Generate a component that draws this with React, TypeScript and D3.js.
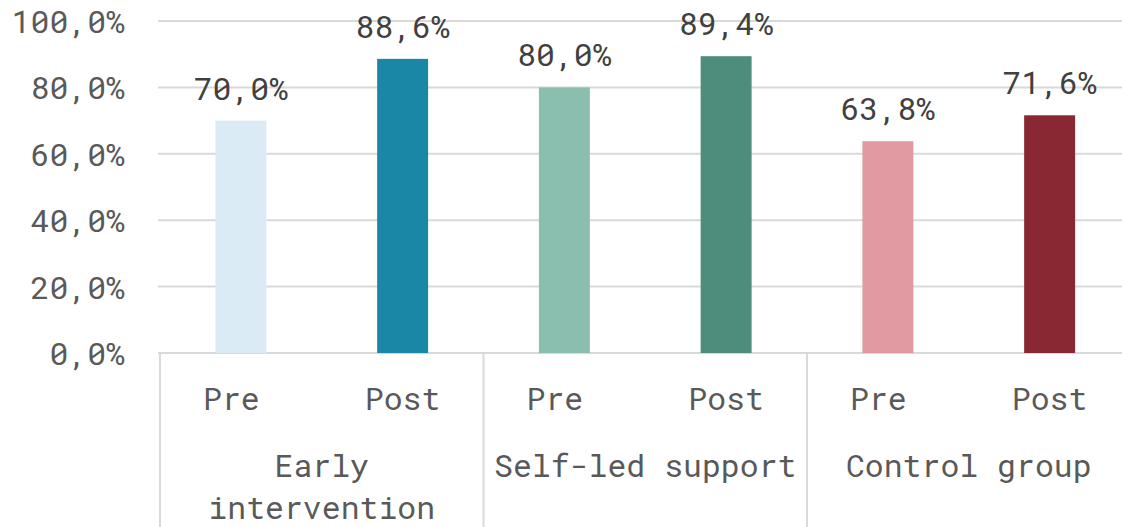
import React from "react";
import * as d3 from "d3";

const groups = ["Early intervention", "Self-led support", "Control group"];
const phases = ["Pre", "Post"];
const phaseLabels = ["Pre\u00a0", "Post"];
const values = [
  [70.0, 88.6],
  [80.0, 89.4],
  [63.8, 71.6],
];
const barColors = [
  ["#dbebf5", "#1a87a6"],
  ["#8abeaf", "#4e8d7b"],
  ["#e19aa2", "#892833"],
];
const yTicks = [0, 20, 40, 60, 80, 100];

const W = 1122;
const H = 527;
const FONT = "'Roboto Mono', 'DejaVu Sans Mono', 'Liberation Mono', monospace";
const FS = 31.5;

const fmt = (v: number) => `${v.toFixed(1).replace(".", ",")}%`;

function wrap(text: string, width: number): string[] {
  const cw = FS * 0.602;
  const words = text.split(" ");
  const lines: string[] = [];
  let cur = "";
  for (const w of words) {
    const test = cur ? cur + " " + w : w;
    if (test.length * cw > width && cur) {
      lines.push(cur);
      cur = w;
    } else cur = test;
  }
  if (cur) lines.push(cur);
  return lines;
}

export default function App() {
  const x0 = 160;
  const x1 = 1130.5;
  const y = d3.scaleLinear().domain([0, 100]).range([353, 21]);
  const gx = d3.scaleBand<string>().domain(groups).range([x0, x1]).padding(0);
  const px = d3.scaleBand<string>().domain(phases).range([0, gx.bandwidth()]).padding(0);
  const barW = px.bandwidth() * 0.315;

  return (
    <svg
      width={W}
      height={H}
      style={{ position: "absolute", left: 0, top: 0, background: "#fff" }}
      fontFamily={FONT}
    >
      {yTicks.map((t) => (
        <g key={t}>
          <line x1={158} x2={W} y1={y(t)} y2={y(t)} stroke="#d9d9d9" strokeWidth={2} />
          <text
            x={125}
            y={y(t)}
            textAnchor="end"
            dominantBaseline="central"
            fontSize={FS}
            fill="#595959"
          >
            {fmt(t)}
          </text>
        </g>
      ))}
      {[...groups.map((g) => gx(g)!), x1].map((xv, i) => (
        <line key={i} x1={xv} x2={xv} y1={y(0)} y2={H} stroke="#d9d9d9" strokeWidth={2} />
      ))}
      {groups.map((g, gi) => (
        <g key={g}>
          {phases.map((p, pi) => {
            const cx = gx(g)! + px(p)! + px.bandwidth() / 2;
            const v = values[gi][pi];
            return (
              <g key={p}>
                <rect
                  x={cx - barW / 2}
                  y={y(v)}
                  width={barW}
                  height={y(0) - y(v)}
                  fill={barColors[gi][pi]}
                />
                <text x={cx} y={y(v) - 21} textAnchor="middle" fontSize={FS} fill="#404040">
                  {fmt(v)}
                </text>
                <text x={cx} y={410} textAnchor="middle" fontSize={FS} fill="#595959">
                  {phaseLabels[pi]}
                </text>
              </g>
            );
          })}
          {wrap(g, gx.bandwidth() - 10).map((line, li) => (
            <text
              key={li}
              x={gx(g)! + gx.bandwidth() / 2}
              y={477 + li * 41.5}
              textAnchor="middle"
              fontSize={FS}
              fill="#595959"
            >
              {line}
            </text>
          ))}
        </g>
      ))}
    </svg>
  );
}
